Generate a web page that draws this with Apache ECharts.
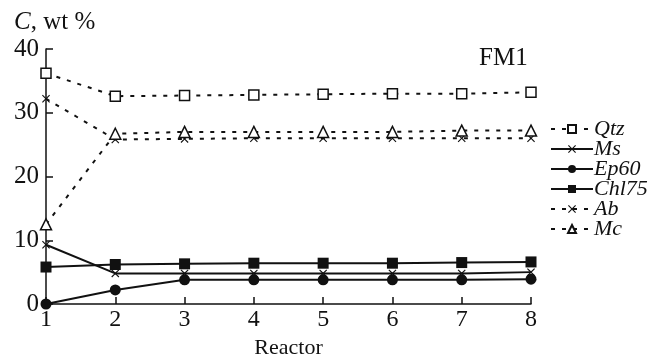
<!DOCTYPE html>
<html>
<head>
<meta charset="utf-8">
<script src="https://cdn.jsdelivr.net/npm/echarts@6/dist/echarts.min.js"></script>
<style>
html, body { margin: 0; padding: 0; background: #fff; }
#chart { width: 657px; height: 356px; }
</style>
</head>
<body>
<div id="chart"></div>
<script>
// reactor numbers on x
var reactors = [1, 2, 3, 4, 5, 6, 7, 8];
var yTicks = [0, 10, 20, 30, 40];

// concentrations, wt %
var qtz   = [36.2, 32.6, 32.7, 32.8, 32.9, 33.0, 33.0, 33.2];
var ms    = [9.3, 4.8, 4.8, 4.8, 4.8, 4.8, 4.8, 5.0];
var ep60  = [0.0, 2.2, 3.8, 3.8, 3.8, 3.8, 3.8, 3.9];
var chl75 = [5.8, 6.2, 6.3, 6.4, 6.4, 6.4, 6.5, 6.6];
var ab    = [32.2, 25.8, 25.9, 26.0, 26.0, 26.0, 26.0, 26.0];
var mc    = [12.5, 26.7, 27.0, 27.0, 27.0, 27.0, 27.2, 27.2];

var serif = '"Liberation Serif", "DejaVu Serif", serif';
var crossPath = 'path://M0,1L1,0L5,4L9,0L10,1L6,5L10,9L9,10L5,6L1,10L0,9L4,5Z';

function pairs(vals) {
    var out = [];
    for (var i = 0; i < reactors.length; i++) {
        out.push([reactors[i], vals[i]]);
    }
    return out;
}

function line(name, vals, symbol, size, fill, dashed) {
    return {
        name: name,
        type: 'line',
        data: pairs(vals),
        symbol: symbol,
        symbolSize: size,
        showAllSymbol: true,
        lineStyle: {color: '#111', width: 2, type: dashed ? [4, 7] : 'solid'},
        itemStyle: {color: fill, borderColor: '#111', borderWidth: fill === '#fff' ? 1.5 : 0},
        emphasis: {disabled: true},
        animation: false,
        z: dashed ? 2 : 3
    };
}

var chart = echarts.init(document.getElementById('chart'));
chart.setOption({
    backgroundColor: '#fff',
    textStyle: {fontFamily: serif, color: '#111'},
    grid: {left: 46, right: 126, top: 49, bottom: 52, containLabel: false, outerBoundsMode: 'none'},
    xAxis: {
        type: 'value',
        min: 1, max: 8, interval: 1,
        axisLine: {lineStyle: {color: '#111', width: 1.5}},
        axisTick: {inside: true, length: 7, lineStyle: {color: '#111', width: 1.5}},
        splitLine: {show: false},
        axisLabel: {fontSize: 24, color: '#111', fontFamily: serif, margin: 4},
        name: 'Reactor',
        nameLocation: 'middle',
        nameGap: 26,
        nameTextStyle: {fontSize: 22, color: '#111', fontFamily: serif}
    },
    yAxis: {
        type: 'value',
        min: 0, max: 40, interval: 10,
        axisLine: {show: true, lineStyle: {color: '#111', width: 1.5}},
        axisTick: {show: true, inside: true, length: 7, lineStyle: {color: '#111', width: 1.5}},
        splitLine: {show: false},
        axisLabel: {fontSize: 25, color: '#111', fontFamily: serif, margin: 7,
            formatter: function (v) { return yTicks.indexOf(v) >= 0 ? String(v) : ''; }}
    },
    legend: {
        orient: 'vertical',
        left: 545,
        top: 113,
        itemWidth: 42,
        itemHeight: 10,
        itemGap: -2,
        textStyle: {fontSize: 22, lineHeight: 20, fontStyle: 'italic', fontFamily: serif, color: '#111', padding: [0, 0, 0, -4]},
        data: ['Qtz', 'Ms', 'Ep60', 'Chl75', 'Ab', 'Mc']
    },
    graphic: [
        {
            type: 'text', left: 14, top: 10,
            style: {
                text: '{i|C}, wt %', fill: '#111',
                font: '25px ' + serif,
                rich: {i: {fontStyle: 'italic', fontSize: 25, fontFamily: serif, fill: '#111'}}
            }
        },
        {
            type: 'text', left: 479, top: 46,
            style: {text: 'FM1', fill: '#111', font: '25px ' + serif}
        }
    ],
    series: [
        line('Qtz', qtz, 'rect', 10, '#fff', true),
        line('Ms', ms, crossPath, 8, '#111', false),
        line('Ep60', ep60, 'circle', 11, '#111', false),
        line('Chl75', chl75, 'rect', 11, '#111', false),
        line('Ab', ab, crossPath, 8, '#111', true),
        line('Mc', mc, 'triangle', 11, '#fff', true)
    ]
});
</script>
</body>
</html>
